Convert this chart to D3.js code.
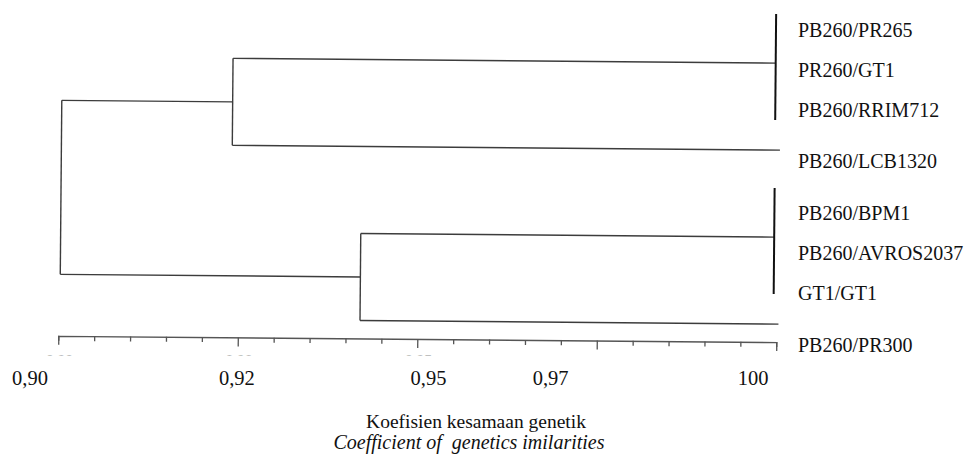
<html>
<head>
<style>
body { margin: 0; background: #fff; }
</style>
</head>
<body>
<script src="https://d3js.org/d3.v7.min.js"></script>
<script>

var width = 969,
    height = 455;

var serif = "'Liberation Serif'";

// clusters (leaves joined at similarity 1.00)
var clusterA = ["PB260/PR265", "PR260/GT1", "PB260/RRIM712"];
var clusterB = ["PB260/BPM1", "PB260/AVROS2037", "GT1/GT1"];
var singleA = "PB260/LCB1320";
var singleB = "PB260/PR300";

// similarity at each join
var simLeaves = 1.00;
var simUpper = 0.924;   // clusterA + LCB1320
var simLower = 0.942;   // clusterB + PR300
var simRoot = 0.9002;

// axis
var tickValues = d3.range(21).map(function(i) { return +(0.90 + i * 0.005).toFixed(3); });
var tickLabels = ["0,90", "0,92", "0,95", "0,97", "100"];
var tickLabelAt = [0.8959, 0.9247, 0.9514, 0.9684, 0.9966];
// original small labels, mostly hidden under the pasted ones
var oldLabels = ["0,90", "0,92", "0,95"];
var oldLabelAt = [0.900, 0.925, 0.950];

var x = d3.scaleLinear()
    .domain([0.90, 1.00])
    .range([59.5, 777.5]);

// four rows: clusterA, LCB1320, clusterB, PR300
var row = d3.scalePoint()
    .domain([0, 1, 2, 3])
    .range([60, 321]);
var leafGap = 38;

// labels sit slightly lower than the branches further down
var labelY = d3.scaleLinear()
    .domain([22, 321])
    .range([29.5, 344.5]);

var tree = {
  sim: simRoot,
  children: [
    { sim: simUpper, children: [
      { sim: simLeaves, row: 0, children: clusterA.map(function(n) { return { name: n }; }) },
      { name: singleA, row: 1 }
    ]},
    { sim: simLower, children: [
      { sim: simLeaves, row: 2, children: clusterB.map(function(n) { return { name: n }; }) },
      { name: singleB, row: 3 }
    ]}
  ]
};

var root = d3.hierarchy(tree);

// leaf y positions
root.each(function(d) {
  if (d.data.row !== undefined) {
    d.y = row(d.data.row);
    if (d.children) {
      var n = d.children.length;
      d.children.forEach(function(c, i) { c.y = d.y + (i - (n - 1) / 2) * leafGap; });
    }
  }
});
root.eachAfter(function(d) {
  if (d.y === undefined && d.children) d.y = d3.mean(d.children, function(c) { return c.y; });
});

var svg = d3.select("body").append("svg")
    .attr("width", width)
    .attr("height", height);

svg.append("clipPath")
    .attr("id", "cut")
  .append("rect")
    .attr("x", 0).attr("y", 340)
    .attr("width", 500).attr("height", 15.5);

// scanned figure is tilted a touch
var g = svg.append("g")
    .attr("transform", "rotate(0.5, 420, 200)");

var lineColor = "#3c3c3c";

root.descendants().forEach(function(d) {
  if (!d.children) return;
  var px = x(d.data.sim);
  if (d.data.sim >= 1) {
    var ys = d.children.map(function(c) { return c.y; });
    g.append("line")
        .attr("x1", px - 3).attr("x2", px - 3)
        .attr("y1", d3.min(ys) - 11).attr("y2", d3.max(ys) + 19)
        .attr("stroke", "#111")
        .attr("stroke-width", 2);
    return;
  }
  var ys2 = d.children.map(function(c) { return c.y; });
  g.append("line")
      .attr("x1", px).attr("x2", px)
      .attr("y1", d3.min(ys2)).attr("y2", d3.max(ys2))
      .attr("stroke", lineColor)
      .attr("stroke-width", 1.4);
  d.children.forEach(function(c) {
    var cx = c.children ? (c.data.sim >= 1 ? x(c.data.sim) - 3 : x(c.data.sim)) : x(1.0) + 2;
    g.append("line")
        .attr("x1", px).attr("x2", cx)
        .attr("y1", c.y).attr("y2", c.y)
        .attr("stroke", lineColor)
        .attr("stroke-width", 1.4);
  });
});

// axis
var axis = d3.axisBottom(x)
    .tickValues(tickValues)
    .tickSize(5)
    .tickFormat("");

var ax = g.append("g")
    .attr("transform", "translate(0,339)")
    .call(axis);
ax.select(".domain").attr("stroke", "#555").attr("stroke-width", 1.4);
ax.selectAll(".tick line")
    .attr("stroke", "#555")
    .attr("stroke-width", 1.3)
    .attr("y2", function(d, i) { return i % 5 === 0 ? 9 : 5; });

// remains of the original axis labels
svg.append("g")
    .attr("clip-path", "url(#cut)")
  .selectAll("text")
    .data(oldLabels)
  .enter().append("text")
    .attr("x", function(d, i) { return x(oldLabelAt[i]); })
    .attr("y", 365)
    .attr("text-anchor", "middle")
    .style("font-family", "'Liberation Sans'")
    .style("font-size", "14px")
    .style("fill", "#888")
    .text(function(d) { return d; });

// leaf labels
root.leaves().forEach(function(d) {
  svg.append("text")
      .attr("x", 798)
      .attr("y", labelY(d.y))
      .attr("dy", "0.35em")
      .style("font-family", serif)
      .style("font-size", "20px")
      .style("fill", "#111")
      .text(d.data.name);
});

// tick labels
svg.selectAll(".tlab")
    .data(tickLabels)
  .enter().append("text")
    .attr("class", "tlab")
    .attr("x", function(d, i) { return x(tickLabelAt[i]); })
    .attr("y", 385)
    .attr("text-anchor", "middle")
    .style("font-family", serif)
    .style("font-size", "20.5px")
    .style("fill", "#111")
    .text(function(d) { return d; });

// axis title
svg.append("text")
    .attr("x", 476)
    .attr("y", 428)
    .attr("text-anchor", "middle")
    .style("font-family", serif)
    .style("font-size", "19.5px")
    .style("fill", "#111")
    .text("Koefisien kesamaan genetik");

svg.append("text")
    .attr("x", 469)
    .attr("y", 449)
    .attr("text-anchor", "middle")
    .style("font-family", serif)
    .style("font-size", "20px")
    .style("font-style", "italic")
    .style("fill", "#111")
    .style("white-space", "pre")
    .text("Coefficient of  genetics imilarities");

</script>
</body>
</html>
